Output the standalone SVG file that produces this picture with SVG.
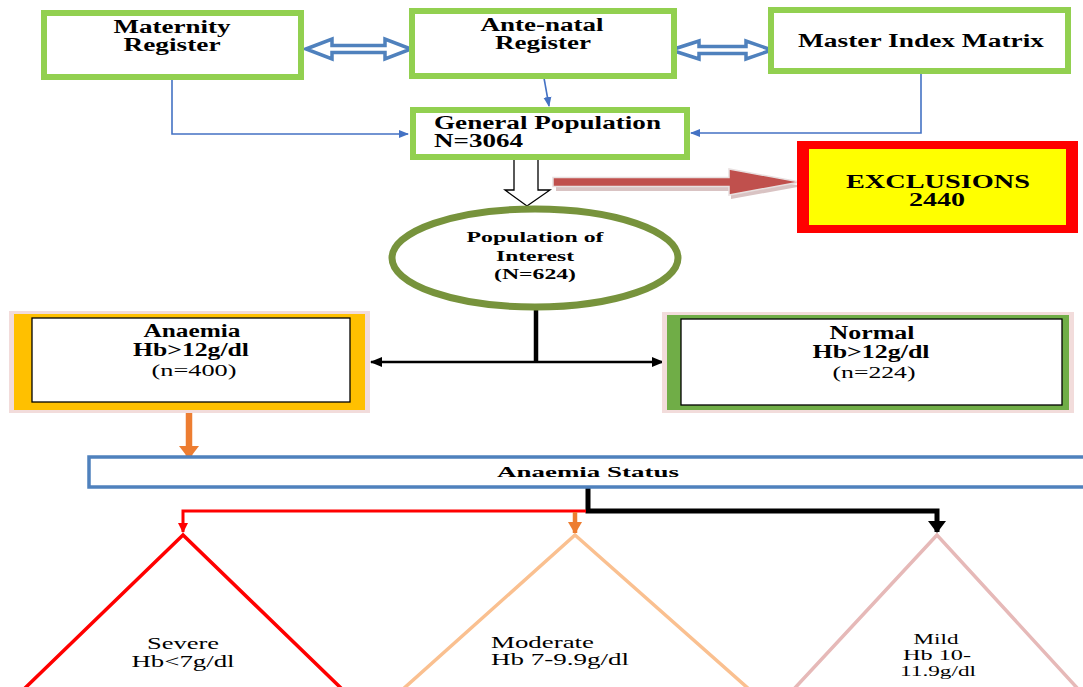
<svg xmlns="http://www.w3.org/2000/svg" width="1083" height="687" viewBox="0 0 1083 687">
<style>
.b{font-family:"Liberation Serif","Times New Roman",serif;font-weight:bold;fill:#000}
.r{font-family:"Liberation Serif","Times New Roman",serif;fill:#000}
.m{text-anchor:middle}
.gbox{fill:#fff;stroke:#92D050;stroke-width:6}
.blue{fill:none;stroke:#4472C4;stroke-width:1.6}
.dbl{fill:#fff;stroke:#4F81BD;stroke-width:3.5;stroke-linejoin:miter}
</style>
<defs>
<marker id="mBlue" markerUnits="userSpaceOnUse" markerWidth="10" markerHeight="10" viewBox="0 0 10 10" refX="9" refY="5" orient="auto"><path d="M0,1 L10,5 L0,9 z" fill="#4472C4"/></marker>
<marker id="mBlack" markerUnits="userSpaceOnUse" markerWidth="12" markerHeight="12" viewBox="0 0 12 12" refX="11" refY="6" orient="auto"><path d="M0,1 L12,6 L0,11 z" fill="#000"/></marker>
<marker id="mBlackBig" markerUnits="userSpaceOnUse" markerWidth="12" markerHeight="20" viewBox="0 0 12 20" refX="11" refY="10" orient="auto"><path d="M0,1 L12,10 L0,19 z" fill="#000"/></marker>
<marker id="mRed" markerUnits="userSpaceOnUse" markerWidth="10" markerHeight="12" viewBox="0 0 10 12" refX="9" refY="6" orient="auto"><path d="M0,1 L10,6 L0,11 z" fill="#FF0000"/></marker>
<marker id="mOrange" markerUnits="userSpaceOnUse" markerWidth="12" markerHeight="16" viewBox="0 0 12 16" refX="11" refY="8" orient="auto"><path d="M0,1 L12,8 L0,15 z" fill="#ED7D31"/></marker>
<marker id="mOrangeBig" markerUnits="userSpaceOnUse" markerWidth="13" markerHeight="22" viewBox="0 0 13 22" refX="12" refY="11" orient="auto"><path d="M0,1 L13,11 L0,21 z" fill="#ED7D31"/></marker>
</defs>

<g id="connectors">
<polyline class="blue" points="172,80 172,134 408,134" marker-end="url(#mBlue)"/>
<line class="blue" x1="544" y1="78" x2="549" y2="106" marker-end="url(#mBlue)"/>
<polyline class="blue" points="921,74 921,133 691,133" marker-end="url(#mBlue)"/>
<polygon class="dbl" points="306,49 332,39 332,45.5 385,45.5 385,39 411,49 385,59 385,52.5 332,52.5 332,59"/>
<polygon class="dbl" points="671,50 699,41 699,46.5 746,46.5 746,41 772,50 746,59 746,53.5 699,53.5 699,59"/>
<polygon points="514,159 538,159 538,190 550,190 527,206 505,190 514,190" fill="#fff" stroke="#000" stroke-width="1.3"/>
<polygon points="556,184 731,184 731,174 803,186 731,199 731,191 556,191" fill="#D9C3C3"/>
<polygon points="553,177.5 729,177.5 729,169 800,182 729,195 729,186.5 553,186.5" fill="#C0504D" stroke="#E8E0E0" stroke-width="1.5"/>
<line x1="536" y1="306" x2="536" y2="362" stroke="#000" stroke-width="4.5"/>
<line x1="536" y1="362" x2="371" y2="362" stroke="#000" stroke-width="2.5" marker-end="url(#mBlack)"/>
<line x1="536" y1="362" x2="663" y2="362" stroke="#000" stroke-width="2.5" marker-end="url(#mBlack)"/>
<line x1="189" y1="413" x2="189" y2="458" stroke="#ED7D31" stroke-width="6.5" marker-end="url(#mOrangeBig)"/>
<polyline points="588,487 588,511 937,511 937,532" fill="none" stroke="#000" stroke-width="5" marker-end="url(#mBlackBig)"/>
<polyline points="586,511 183,511 183,532" fill="none" stroke="#FF0000" stroke-width="3" marker-end="url(#mRed)"/>
<line x1="575" y1="512" x2="575" y2="533" stroke="#ED7D31" stroke-width="4.5" marker-end="url(#mOrange)"/>
</g>

<g id="maternity">
<rect class="gbox" x="44" y="13" width="257" height="64"/>
<text class="b m" x="172" y="33" font-size="18" textLength="117" lengthAdjust="spacingAndGlyphs">Maternity</text>
<text class="b m" x="172" y="51" font-size="18" textLength="97" lengthAdjust="spacingAndGlyphs">Register</text>
</g>
<g id="antenatal">
<rect class="gbox" x="412" y="11" width="262" height="65"/>
<text class="b m" x="542" y="31" font-size="18" textLength="123" lengthAdjust="spacingAndGlyphs">Ante-natal</text>
<text class="b m" x="543" y="49" font-size="18" textLength="96" lengthAdjust="spacingAndGlyphs">Register</text>
</g>
<g id="master">
<rect class="gbox" x="771" y="10" width="297" height="61"/>
<text class="b m" x="921" y="47" font-size="18" textLength="246" lengthAdjust="spacingAndGlyphs">Master Index Matrix</text>
</g>
<g id="general">
<rect class="gbox" x="413" y="110" width="274" height="47"/>
<text class="b" x="434" y="129" font-size="18" textLength="227" lengthAdjust="spacingAndGlyphs">General Population</text>
<text class="b" x="434" y="147" font-size="18" textLength="89" lengthAdjust="spacingAndGlyphs">N=3064</text>
</g>
<g id="exclusions">
<rect x="797" y="141" width="281" height="92" fill="#FF0000"/>
<rect x="809" y="149" width="257" height="76" fill="#FFFF00"/>
<text class="b m" x="938" y="188" font-size="18" textLength="184" lengthAdjust="spacingAndGlyphs">EXCLUSIONS</text>
<text class="b m" x="937" y="206" font-size="18" textLength="56" lengthAdjust="spacingAndGlyphs">2440</text>
</g>
<g id="interest">
<ellipse cx="535" cy="258" rx="143" ry="49" fill="#fff" stroke="#77933C" stroke-width="7"/>
<text class="b m" x="535" y="242" font-size="14.5" textLength="137" lengthAdjust="spacingAndGlyphs">Population of</text>
<text class="b m" x="535" y="261" font-size="14.5" textLength="78" lengthAdjust="spacingAndGlyphs">Interest</text>
<text class="b m" x="535" y="279" font-size="14.5" textLength="82" lengthAdjust="spacingAndGlyphs">(N=624)</text>
</g>
<g id="anaemia">
<rect x="9" y="311" width="361" height="102" fill="#F2DCDB"/>
<rect x="14" y="314" width="351" height="96" fill="#FFC000"/>
<rect x="32" y="318" width="318" height="84" fill="#fff" stroke="#000" stroke-width="1.3"/>
<text class="b m" x="192" y="337" font-size="18" textLength="97" lengthAdjust="spacingAndGlyphs">Anaemia</text>
<text class="b m" x="191" y="356" font-size="18" textLength="116" lengthAdjust="spacingAndGlyphs">Hb&gt;12g/dl</text>
<text class="r m" x="194" y="376" font-size="16" textLength="85" lengthAdjust="spacingAndGlyphs">(n=400)</text>
</g>
<g id="normal">
<rect x="662" y="312" width="412" height="101" fill="#F2DCDB"/>
<rect x="667" y="315" width="402" height="95" fill="#70AD47"/>
<rect x="681" y="319" width="381" height="86" fill="#fff" stroke="#000" stroke-width="1.3"/>
<text class="b m" x="872" y="339" font-size="18" textLength="85" lengthAdjust="spacingAndGlyphs">Normal</text>
<text class="b m" x="871" y="358" font-size="18" textLength="117" lengthAdjust="spacingAndGlyphs">Hb&gt;12g/dl</text>
<text class="r m" x="874" y="378" font-size="16" textLength="83" lengthAdjust="spacingAndGlyphs">(n=224)</text>
</g>
<g id="status">
<rect x="89" y="457" width="1010" height="30" fill="#fff" stroke="#4F81BD" stroke-width="3.5"/>
<text class="b m" x="588" y="477" font-size="15.5" textLength="182" lengthAdjust="spacingAndGlyphs">Anaemia Status</text>
</g>
<g id="severe">
<polygon points="183,535 23,690 343,690" fill="#fff" stroke="#FF0000" stroke-width="3.5"/>
<text class="r m" x="183" y="649" font-size="16" textLength="72" lengthAdjust="spacingAndGlyphs">Severe</text>
<text class="r m" x="183" y="667" font-size="16" textLength="103" lengthAdjust="spacingAndGlyphs">Hb&lt;7g/dl</text>
</g>
<g id="moderate">
<polygon points="575,535 402,690 750,690" fill="#fff" stroke="#FAC090" stroke-width="3.5"/>
<text class="r" x="491" y="648" font-size="16" textLength="103" lengthAdjust="spacingAndGlyphs">Moderate</text>
<text class="r" x="491" y="665" font-size="16" textLength="138" lengthAdjust="spacingAndGlyphs">Hb 7-9.9g/dl</text>
</g>
<g id="mild">
<polygon points="937,535 793,690 1079,690" fill="#fff" stroke="#E6B9B8" stroke-width="3.5"/>
<text class="r m" x="936" y="644" font-size="14" textLength="45" lengthAdjust="spacingAndGlyphs">Mild</text>
<text class="r m" x="937" y="660" font-size="14" textLength="68" lengthAdjust="spacingAndGlyphs">Hb 10-</text>
<text class="r m" x="938" y="676" font-size="14" textLength="76" lengthAdjust="spacingAndGlyphs">11.9g/dl</text>
</g>
</svg>
